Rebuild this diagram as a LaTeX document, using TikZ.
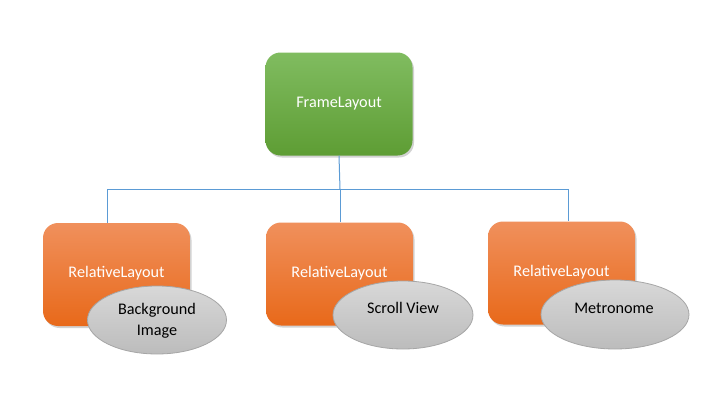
\documentclass[tikz,border=0pt]{standalone}
\usepackage{fontspec}
\setmainfont{Carlito}
\usetikzlibrary{shapes.geometric,shadows}
\definecolor{lineblue}{HTML}{5B9BD5}
\definecolor{greentop}{HTML}{80BC60}
\definecolor{greenbot}{HTML}{5E9D34}
\definecolor{orangetop}{HTML}{F0905C}
\definecolor{orangebot}{HTML}{E8691A}
\definecolor{graytop}{HTML}{D8D8D8}
\definecolor{graybot}{HTML}{BCBCBC}
\definecolor{grayedge}{HTML}{A6A6A6}
\tikzset{
  boxbase/.style={rectangle, rounded corners=15pt, minimum width=147pt, minimum height=103pt,
    inner sep=0pt, text=white, font=\fontsize{16.2}{19}\selectfont,
    drop shadow={opacity=0.35, shadow xshift=1.5pt, shadow yshift=-2pt}},
  greenbox/.style={boxbase, top color=greentop, bottom color=greenbot},
  orangebox/.style={boxbase, top color=orangetop, bottom color=orangebot},
  oval/.style={ellipse, inner sep=0pt, draw=grayedge, line width=0.8pt,
    top color=graytop, bottom color=graybot},
  ovaltext/.style={text=black, font=\fontsize{16.2}{21}\selectfont, align=center, inner sep=0pt},
  link/.style={draw=lineblue, line width=1pt}
}
\begin{document}
\begin{tikzpicture}[x=1pt,y=-1pt]
\useasboundingbox[fill=white] (0,0) rectangle (724,415);
\node[greenbox] (frame) at (339,104) {\raisebox{2pt}{FrameLayout}};
\node[orangebox] (r1) at (116.5,274.5) {\raisebox{5pt}{RelativeLayout}};
\node[orangebox] (r2) at (339.5,274) {\raisebox{5pt}{RelativeLayout}};
\node[orangebox] (r3) at (561.5,273) {\raisebox{5pt}{RelativeLayout}};
\coordinate (hub) at (340,189);
\coordinate (hl) at (107,189);
\coordinate (hr) at (568,189);
\draw[link] (frame.south) -- (hub);
\draw[link] (hl) -- (hr);
\draw[link] (hl) -- (r1.north -| hl);
\draw[link] (hub) -- (r2.north -| hub);
\draw[link] (hr) -- (r3.north -| hr);
\node[oval, minimum width=139pt, minimum height=68pt] (e1) at (157,320) {};
\node[oval, minimum width=140pt, minimum height=68pt] (e2) at (403,315) {};
\node[oval, minimum width=148pt, minimum height=69pt] (e3) at (615,314.5) {};
\node[ovaltext] (t1) at (157,320.5) {Background\\Image};
\node[ovaltext] (t2) at (403,308) {Scroll View};
\node[ovaltext] (t3) at (614,308) {Metronome};
\end{tikzpicture}
\end{document}
